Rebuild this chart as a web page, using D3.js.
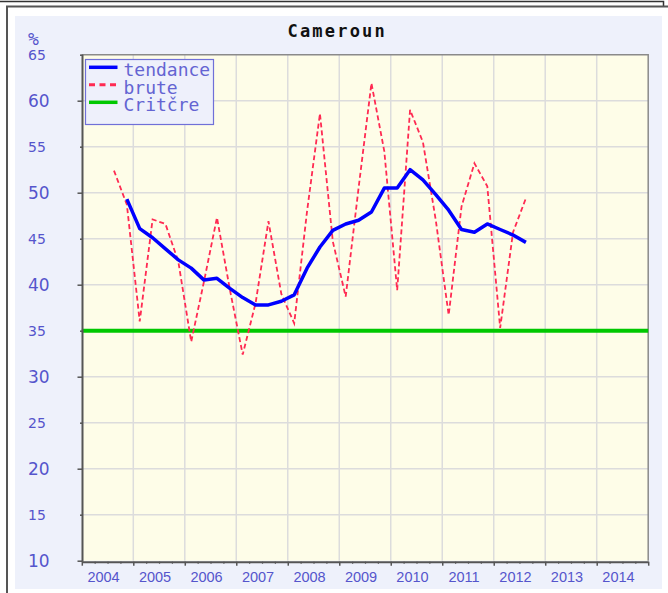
<!DOCTYPE html>
<html>
<head>
<meta charset="utf-8">
<script src="https://cdn.jsdelivr.net/npm/d3@7"></script>
<style>
  html, body { margin: 0; padding: 0; background: #ffffff; }
  svg { display: block; }
</style>
</head>
<body>
<svg id="chart" width="668" height="593"></svg>
<script>
// Quarterly observations (T = trimestre)
const quarters = [
  "2004T3","2004T4",
  "2005T1","2005T2","2005T3","2005T4",
  "2006T1","2006T2","2006T3","2006T4",
  "2007T1","2007T2","2007T3","2007T4",
  "2008T1","2008T2","2008T3","2008T4",
  "2009T1","2009T2","2009T3","2009T4",
  "2010T1","2010T2","2010T3","2010T4",
  "2011T1","2011T2","2011T3","2011T4",
  "2012T1","2012T2","2012T3"
];

// Raw series (%)
const brute = [
  52.4, 48.7,
  36.0, 47.1, 46.6, 42.5,
  33.8, 40.4, 47.3, 39.5,
  32.4, 38.0, 46.9, 39.0,
  35.8, 48.0, 58.6, 44.7,
  38.7, 50.5, 61.9, 54.5,
  39.4, 59.0, 55.5, 47.0,
  36.7, 48.5, 53.2, 50.7,
  35.3, 45.7, 49.4
];

// Trend series (%), starts one quarter later
const tendance = [
  null, 49.3,
  46.1, 45.1, 43.9, 42.7,
  41.8, 40.5, 40.7, 39.6,
  38.6, 37.8, 37.8, 38.2,
  38.9, 41.8, 44.1, 45.9,
  46.6, 47.0, 47.9, 50.5,
  50.5, 52.5, 51.4, 49.8,
  48.1, 46.0, 45.7, 46.6,
  46.0, 45.4, 44.6
];

// Threshold level (%)
const critere = 35;

const yTicks = [10, 15, 20, 25, 30, 35, 40, 45, 50, 55, 60, 65];
const years = [2004, 2005, 2006, 2007, 2008, 2009, 2010, 2011, 2012, 2013, 2014];

const legendLabels = ["tendance", "brute", "Critčre"];
const titleText = "Cameroun";
const unitText = "%";

const colBlue = "#0000ff";
const colRed = "#ff2a52";
const colGreen = "#00c800";
const colText = "#5555cc";

const svg = d3.select("#chart");

// Outer frames
svg.append("path")
  .attr("d", "M0,1.5H663.5V7")
  .attr("fill", "none").attr("stroke", "#333").attr("stroke-width", 1.5);
svg.append("path")
  .attr("d", "M7,593V6.5H668")
  .attr("fill", "none").attr("stroke", "#555").attr("stroke-width", 2);

// Panel background
svg.append("rect")
  .attr("x", 15).attr("y", 16).attr("width", 647).attr("height", 573)
  .attr("fill", "#eef1fb");

const x = d3.scaleLinear().domain([2004, 2015]).range([81.8, 648.2]);
const y = d3.scaleLinear().domain([10, 65]).range([560.7, 54.7]);

const qPos = q => +q.slice(0, 4) + (+q.slice(5) - 0.5) / 4;

// Plot background
svg.append("rect")
  .attr("x", x(2004)).attr("y", y(65))
  .attr("width", x(2015) - x(2004)).attr("height", y(10) - y(65))
  .attr("fill", "#fefde8");

// Grid
const grid = svg.append("g").attr("stroke", "#dcdcdc").attr("stroke-width", 1.5);
grid.selectAll("line.h").data(yTicks.filter(v => v > 10 && v < 65)).join("line")
  .attr("class", "h")
  .attr("x1", x(2004)).attr("x2", x(2015))
  .attr("y1", d => y(d)).attr("y2", d => y(d));
grid.selectAll("line.v").data(years.slice(1)).join("line")
  .attr("class", "v")
  .attr("x1", d => x(d)).attr("x2", d => x(d))
  .attr("y1", y(65)).attr("y2", y(10));

// Plot border (top / right)
svg.append("path")
  .attr("d", `M${x(2004)},${y(65)}H${x(2015)}V${y(10)}`)
  .attr("fill", "none").attr("stroke", "#8a8a8a").attr("stroke-width", 1.5);

// Threshold line
svg.append("line")
  .attr("x1", x(2004)).attr("x2", x(2015))
  .attr("y1", y(critere)).attr("y2", y(critere))
  .attr("stroke", colGreen).attr("stroke-width", 4);

// Raw series
const rows = quarters.map((q, i) => ({ t: qPos(q), b: brute[i], tr: tendance[i] }));

svg.append("path")
  .datum(rows)
  .attr("fill", "none")
  .attr("stroke", colRed)
  .attr("stroke-width", 1.8)
  .attr("stroke-dasharray", "5,3")
  .attr("d", d3.line().x(d => x(d.t)).y(d => y(d.b)));

// Trend series
svg.append("path")
  .datum(rows)
  .attr("fill", "none")
  .attr("stroke", colBlue)
  .attr("stroke-width", 3.5)
  .attr("stroke-linejoin", "round")
  .attr("d", d3.line().defined(d => d.tr != null).x(d => x(d.t)).y(d => y(d.tr)));

// Left axis
const yAxis = svg.append("g")
  .attr("transform", `translate(${x(2004) + 0.7},0)`)
  .call(d3.axisLeft(y).tickValues(yTicks).tickSizeInner(5).tickSizeOuter(0).tickPadding(0));
yAxis.select(".domain").attr("stroke", "#555").attr("stroke-width", 2)
  .attr("d", `M0,${y(65)}V${y(10) + 1}`);
yAxis.selectAll(".tick line").attr("stroke", "#555").attr("stroke-width", 1.5)
  .attr("x2", d => (d % 10 === 0 ? -5 : -2.5));
yAxis.selectAll(".tick text")
  .attr("fill", colText)
  .attr("text-anchor", "start")
  .attr("x", 28 - (x(2004) + 0.7))
  .attr("dy", "0.36em")
  .style("font-family", "'DejaVu Sans', sans-serif")
  .style("font-size", d => (d % 10 === 0 ? "17px" : "14px"));

// Bottom axis: year ticks, quarter ticks, labels
const yb = y(10) + 1;
const xMajor = svg.append("g").attr("transform", `translate(0,${yb})`)
  .call(d3.axisBottom(x).tickValues(d3.range(2004, 2016)).tickFormat("").tickSizeInner(4).tickSizeOuter(0));
xMajor.select(".domain").attr("stroke", "#555").attr("stroke-width", 2);
xMajor.selectAll(".tick line").attr("stroke", "#555").attr("stroke-width", 1.5);

const quarterTicks = d3.range(2004, 2015).flatMap(yr => [yr + 0.25, yr + 0.5, yr + 0.75]);
const xMinor = svg.append("g").attr("transform", `translate(0,${yb})`)
  .call(d3.axisBottom(x).tickValues(quarterTicks).tickFormat("").tickSizeInner(2).tickSizeOuter(0));
xMinor.select(".domain").remove();
xMinor.selectAll(".tick line").attr("stroke", "#555").attr("stroke-width", 1.2);

const xLabels = svg.append("g").attr("transform", `translate(0,${yb})`)
  .call(d3.axisBottom(x).tickValues(years.map(v => v + 0.5)).tickFormat(d => String(Math.floor(d))).tickSize(0).tickPadding(10));
xLabels.select(".domain").remove();
xLabels.selectAll(".tick text")
  .attr("fill", colText)
  .attr("dx", -4.5)
  .style("font-family", "'Liberation Sans', Arial, sans-serif")
  .style("font-size", "14.5px");

// Title and unit
svg.append("text")
  .attr("x", 287.5).attr("y", 37.3)
  .attr("fill", "#111")
  .style("font-family", "'DejaVu Sans Mono', monospace")
  .style("font-weight", "bold")
  .style("font-size", "17px")
  .style("letter-spacing", "2.2px")
  .text(titleText);

svg.append("text")
  .attr("x", 28).attr("y", 45)
  .attr("fill", colText)
  .style("font-family", "'DejaVu Sans Mono', monospace")
  .style("font-size", "18px")
  .text(unitText);

// Legend
const lg = svg.append("g");
lg.append("rect")
  .attr("x", 85.5).attr("y", 59.5).attr("width", 128).attr("height", 65)
  .attr("fill", "#eef0fb").attr("stroke", "#7070d8").attr("stroke-width", 1.2);

const legendStyles = [
  { color: colBlue, dash: null, width: 3.5 },
  { color: colRed, dash: "6,4.5", width: 3 },
  { color: colGreen, dash: null, width: 3.5 }
];
const rowY = [67.3, 84.8, 102.3];

legendLabels.forEach((label, i) => {
  const s = legendStyles[i];
  lg.append("line")
    .attr("x1", 89).attr("x2", 117.5)
    .attr("y1", rowY[i]).attr("y2", rowY[i])
    .attr("stroke", s.color).attr("stroke-width", s.width)
    .attr("stroke-dasharray", s.dash);
  lg.append("text")
    .attr("x", 123.5).attr("y", rowY[i] + 8.8)
    .attr("fill", "#6464d2")
    .style("font-family", "'DejaVu Sans Mono', monospace")
    .style("font-size", "18px")
    .text(label);
});
</script>
</body>
</html>
